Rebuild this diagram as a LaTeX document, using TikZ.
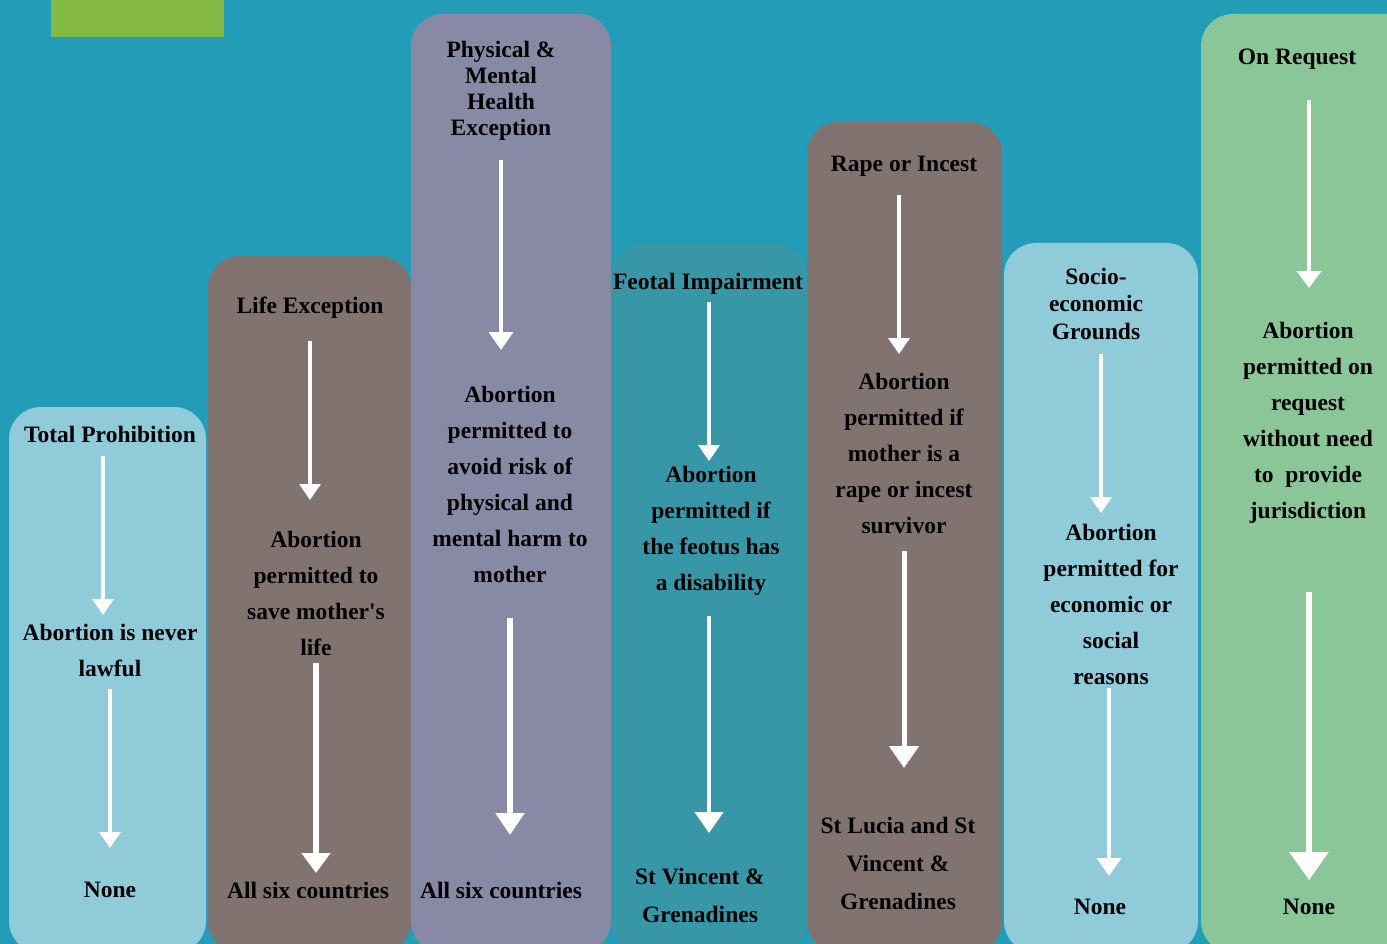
\documentclass[tikz,border=0pt]{standalone}
\usepackage{fontspec}
\setmainfont{Liberation Serif}
\usetikzlibrary{arrows.meta}

\begin{document}
\begin{tikzpicture}[x=1pt,y=-1pt]

	\def\corner{32}
	\def\colbottom{953}

	% Colours
	\definecolor{bgcolor}{HTML}{239CB8}
	\definecolor{tabcolor}{HTML}{84BA44}
	\definecolor{palecolor}{HTML}{90CBDA}
	\definecolor{browncolor}{HTML}{817470}
	\definecolor{mauvecolor}{HTML}{8789A5}
	\definecolor{tealcolor}{HTML}{3897A7}
	\definecolor{greencolor}{HTML}{8AC698}

	% Styles
	\tikzstyle{txt}=[font=\bfseries\fontsize{23.5}{36}\selectfont, align=center, inner sep=0pt, text=black, yshift=-1.5pt]
	\tikzstyle{head}=[font=\bfseries\fontsize{23.5}{26}\selectfont, align=center, inner sep=0pt, text=black, yshift=-1.5pt]
	\tikzstyle{foot}=[font=\bfseries\fontsize{23.5}{38}\selectfont, align=center, inner sep=0pt, text=black, yshift=-1.5pt]
	\tikzset{flow/.style n args={3}{draw=white, line width=#1pt, -{Triangle[width=#2pt,length=#3pt]}, fill=white}}

	% Background
	\useasboundingbox (0,0) rectangle (1387,944);
	\fill[bgcolor] (0,0) rectangle (1387,944);
	\fill[tabcolor] (51,0) rectangle (224,37);

	% Columns
	\fill[palecolor, rounded corners=\corner] (9,407) rectangle (206,\colbottom);
	\fill[browncolor, rounded corners=\corner] (208,256) rectangle (411,\colbottom);
	\fill[mauvecolor, rounded corners=\corner] (411,14) rectangle (611,\colbottom);
	\fill[tealcolor, rounded corners=\corner] (611,244) rectangle (807,\colbottom);
	\fill[browncolor, rounded corners=\corner] (807,122) rectangle (1002,\colbottom);
	\fill[palecolor, rounded corners=\corner] (1004,243) rectangle (1198,\colbottom);
	\fill[greencolor, rounded corners=\corner] (1201,14) rectangle (1420,\colbottom);

	% Total prohibition
	\node[head] (t1) at (110,433) {Total Prohibition};
	\node[txt] (m1) at (110,649) {Abortion is never\\lawful};
	\node[txt] (b1) at (110,888) {None};
	\draw[flow={3.5}{21}{16}] ([shift={(-7,21.5)}]t1.center) -- ([shift={(-7,-35.5)}]m1.center);
	\draw[flow={3.5}{21}{16}] ([shift={(0,38.5)}]m1.center) -- ([shift={(0,-41.5)}]b1.center);

	% Life exception
	\node[head] (t2) at (310,306) {Life Exception};
	\node[txt] (m2) at (316,592) {Abortion\\permitted to\\save mother\textquotesingle s\\life};
	\node[txt] (b2) at (308,889) {All six countries};
	\draw[flow={3.5}{21}{16}] ([shift={(0,33.5)}]t2.center) -- ([shift={(-6,-93.5)}]m2.center);
	\draw[flow={5.5}{28}{20}] ([shift={(0,69.5)}]m2.center) -- ([shift={(8,-17.5)}]b2.center);

	% Physical and mental health
	\node[head] (t3) at (501,89) {Physical \&\\Mental\\Health\\Exception};
	\node[txt] (m3) at (510,483) {Abortion\\permitted to\\avoid risk of\\physical and\\mental harm to\\mother};
	\node[txt] (b3) at (501,889) {All six countries};
	\draw[flow={3.5}{24}{18}] ([shift={(0,69.5)}]t3.center) -- ([shift={(-9,-134.5)}]m3.center);
	\draw[flow={5.5}{28}{22}] ([shift={(0,133.5)}]m3.center) -- ([shift={(9,-55.5)}]b3.center);

	% Feotal impairment
	\node[head] (t4) at (708,282) {Feotal Impairment};
	\node[txt] (m4) at (711,529) {Abortion\\permitted if\\the feotus has\\a disability};
	\node[foot] (b4) at (700,894) {St Vincent \&\\Grenadines};
	\draw[flow={3.5}{21}{16}] ([shift={(1,18.5)}]t4.center) -- ([shift={(-2,-69.5)}]m4.center);
	\draw[flow={4.5}{28}{21}] ([shift={(-2,85.5)}]m4.center) -- ([shift={(9,-62.5)}]b4.center);

	% Rape or incest
	\node[head] (t5) at (904,165) {Rape or Incest};
	\node[txt] (m5) at (904,452) {Abortion\\permitted if\\mother is a\\rape or incest\\survivor};
	\node[foot] (b5) at (898,862) {St Lucia and St\\Vincent \&\\Grenadines};
	\draw[flow={3.5}{21}{16}] ([shift={(-5,28.5)}]t5.center) -- ([shift={(-5,-99.5)}]m5.center);
	\draw[flow={5}{29}{22}] ([shift={(0,97.5)}]m5.center) -- ([shift={(6,-95.5)}]b5.center);

	% Socio-economic
	\node[head, font=\bfseries\fontsize{23.5}{27.5}\selectfont] (t6) at (1096,302) {Socio-\\economic\\Grounds};
	\node[txt] (m6) at (1111,603) {Abortion\\permitted for\\economic or\\social\\reasons};
	\node[txt] (b6) at (1100,905) {None};
	\draw[flow={3.5}{21}{16}] ([shift={(5,50.5)}]t6.center) -- ([shift={(-10,-91.5)}]m6.center);
	\draw[flow={4}{24}{18}] ([shift={(-2,83.5)}]m6.center) -- ([shift={(9,-30.5)}]b6.center);

	% On request
	\node[head] (t7) at (1297,58) {On Request};
	\node[txt] (m7) at (1308,421) {Abortion\\permitted on\\request\\without need\\to\ \ provide\\jurisdiction};
	\node[txt] (b7) at (1309,905) {None};
	\draw[flow={4}{24}{17}] ([shift={(12,40.5)}]t7.center) -- ([shift={(1,-134.5)}]m7.center);
	\draw[flow={6}{38}{28}] ([shift={(1,169.5)}]m7.center) -- ([shift={(0,-26.5)}]b7.center);

\end{tikzpicture}
\end{document}
